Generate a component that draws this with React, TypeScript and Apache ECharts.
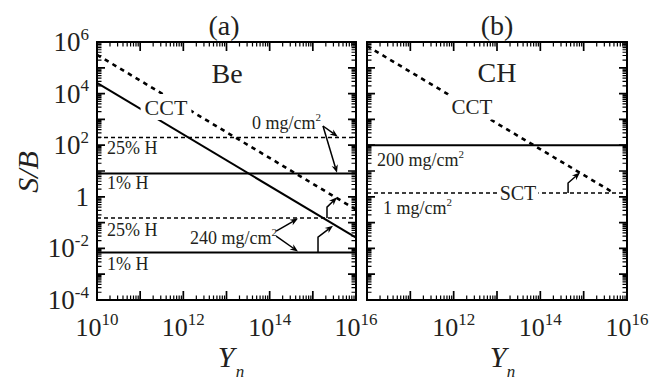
import React, { useEffect, useRef } from 'react';
import * as echarts from 'echarts';

// ---------- data (real units) ----------
// Panel (a): Be
const beYields = [1e10, 1e16];
const beCct0mg = [3.2e5, 0.32];        // CCT, 0 mg/cm2 (dashed)
const beCct240mg = [2.6e4, 0.026];     // CCT, 240 mg/cm2 (solid)
const be25H0mg = [200, 200];           // 25% H, 0 mg/cm2 (dashed)
const be1H0mg = [8, 8];                // 1% H, 0 mg/cm2 (solid)
const be25H240mg = [0.15, 0.15];       // 25% H, 240 mg/cm2 (dashed)
const be1H240mg = [0.007, 0.007];      // 1% H, 240 mg/cm2 (solid)

// Panel (b): CH
const chCctYields = [1e10, 5e15];
const chCct = [7e5, 1.4];              // CCT (dashed)
const chFlatYields = [1e10, 1e16];
const ch200mg = [100, 100];            // 200 mg/cm2 (solid)
const chSct1mg = [1.4, 1.4];           // SCT, 1 mg/cm2 (dashed)

// axis ranges (decades) and tick labels (decade exponents)
const xRangeExp = [10, 16];
const yRangeExp = [-4, 6];
const xLabelExpA = [10, 12, 14, 16];
const xLabelExpB = [12, 14, 16];
const yLabelExp = [6, 4, 2, 0, -2, -4];

// annotation arrows, in decades [log10(Y), log10(S/B)]
const arrowsA = [
  [[15.235, 2.744], [15.58, 2.33]],
  [[15.235, 2.744], [15.56, 0.93]],
  [[14.15, -1.33], [14.656, -0.84]],
  [[14.15, -1.52], [14.656, -2.12]],
  [[15.12, -2.15], [15.12, -1.56], [15.467, -1.12]],
  [[15.328, -0.82], [15.328, -0.40], [15.56, -0.02]],
];
const arrowsB = [
  [[14.64, 0.146], [14.64, 0.535], [14.916, 0.94]],
];

// ---------- layout ----------
const GRID_TOP = 42;
const GRID_BOTTOM = 81;
const GRIDS = [
  { left: 97, right: 311 },
  { left: 367, right: 40 },
];
const CHART_W = 667;
const CHART_H = 381;

// ---------- styling ----------
const SERIF = 'Liberation Serif';
const TXT = '#231f20';
const BLACK = '#000';

const lg = (v: number) => Math.log10(v);
const pairs = (xs: number[], ys: number[]) => xs.map((x, i) => [lg(x), lg(ys[i])]);

const range = (a: number, b: number) => {
  const out: number[] = [];
  for (let d = a; d <= b; d++) out.push(d);
  return out;
};
const minorVals = (from: number, to: number) => {
  const out: number[] = [];
  for (let d = from; d < to; d++) for (let k = 2; k <= 9; k++) out.push(d + Math.log10(k));
  return out;
};
const xMajor = range(xRangeExp[0], xRangeExp[1]);
const yMajor = range(yRangeExp[0], yRangeExp[1]);
const xMinor = minorVals(xRangeExp[0], xRangeExp[1]);
const yMinor = minorVals(yRangeExp[0], yRangeExp[1]);

const tickRich = (size: number) => ({
  b: { fontSize: size, fontFamily: SERIF, color: TXT, lineHeight: 28, verticalAlign: 'middle' },
  s: { fontSize: 17, fontFamily: SERIF, color: TXT, lineHeight: 28, verticalAlign: 'middle', padding: [0, 0, 16, 0] },
});

const fmt = (list: number[]) => (v: number) => {
  const e = Math.round(v);
  if (!list.includes(e)) return '';
  if (e === 0) return '{b|1}';
  return `{b|10}{s|${e}}`;
};

const frameLine = { show: true, onZero: false, lineStyle: { color: BLACK, width: 2 } };

const xAxisFor = (g: number, labels: number[] | null, position: 'bottom' | 'top') => ({
  type: 'value', gridIndex: g, min: xRangeExp[0], max: xRangeExp[1], interval: 1, position,
  axisLine: frameLine, axisTick: { show: false }, splitLine: { show: false },
  axisLabel: labels ? { show: true, margin: 13, formatter: fmt(labels), rich: tickRich(26) } : { show: false },
});
const yAxisFor = (g: number, showLabels: boolean, position: 'left' | 'right') => ({
  type: 'value', gridIndex: g, min: yRangeExp[0], max: yRangeExp[1], interval: 1, position,
  axisLine: frameLine, axisTick: { show: false }, splitLine: { show: false },
  axisLabel: showLabels
    ? { show: true, margin: 8, formatter: fmt(yLabelExp), rich: tickRich(27) }
    : { show: false },
});

// ---------- tick marks: one "comb" line per side, drawn through the axis scales ----------
// a tick length in pixels is turned into axis units from the grid size
const gridW = (g: number) => CHART_W - GRIDS[g].left - GRIDS[g].right;
const gridH = CHART_H - GRID_TOP - GRID_BOTTOM;
const xUnitsPerPx = (g: number) => (xRangeExp[1] - xRangeExp[0]) / gridW(g);
const yUnitsPerPx = (yRangeExp[1] - yRangeExp[0]) / gridH;

const comb = (g: number, dim: 'x' | 'y', low: boolean, values: number[], lenPx: number) => {
  const pts: number[][] = [];
  if (dim === 'x') {
    const len = lenPx * yUnitsPerPx;
    const y0 = low ? yRangeExp[0] : yRangeExp[1];
    const y1 = low ? y0 + len : y0 - len;
    values.forEach((v) => pts.push([v, y0], [v, y1], [v, y0]));
  } else {
    const len = lenPx * xUnitsPerPx(g);
    const x0 = low ? xRangeExp[0] : xRangeExp[1];
    const x1 = low ? x0 + len : x0 - len;
    values.forEach((v) => pts.push([x0, v], [x1, v], [x0, v]));
  }
  return pts;
};

const combSeries = (g: number, data: number[][], width: number) => ({
  type: 'line', xAxisIndex: g, yAxisIndex: g, data, showSymbol: false, symbol: 'none',
  clip: false, silent: true, z: 5,
  lineStyle: { color: BLACK, width, cap: 'butt', join: 'bevel' },
});
const ticksFor = (g: number) => [
  combSeries(g, comb(g, 'x', true, xMajor, 9), 1.7),
  combSeries(g, comb(g, 'x', false, xMajor, 9), 1.7),
  combSeries(g, comb(g, 'x', true, xMinor, 4.5), 1.2),
  combSeries(g, comb(g, 'x', false, xMinor, 4.5), 1.2),
  combSeries(g, comb(g, 'y', true, yMajor, 8), 1.7),
  combSeries(g, comb(g, 'y', false, yMajor, 8), 1.7),
  combSeries(g, comb(g, 'y', true, yMinor, 4.5), 1.2),
  combSeries(g, comb(g, 'y', false, yMinor, 4.5), 1.2),
];

// annotation arrows (polyline shaft + filled head), positioned through the axis scales
const arrowSeries = (g: number, paths: number[][][]) => ({
  type: 'custom', coordinateSystem: 'cartesian2d', xAxisIndex: g, yAxisIndex: g,
  z: 7, clip: false,
  data: paths.map((p) => p[p.length - 1]),
  renderItem: (params: any, api: any) => {
    const pts = paths[params.dataIndex].map((p) => api.coord(p));
    const n = pts.length;
    const [x2, y2] = pts[n - 1];
    const [x1, y1] = pts[n - 2];
    const a = Math.atan2(y2 - y1, x2 - x1);
    const c = Math.cos(a), s = Math.sin(a);
    const L = 8, W = 3.2;
    const bx = x2 - L * c, by = y2 - L * s;
    const nx = x2 - 0.7 * L * c, ny = y2 - 0.7 * L * s;
    const shaft = [...pts.slice(0, n - 1), [nx, ny]];
    return {
      type: 'group',
      children: [
        { type: 'polyline', shape: { points: shaft }, style: { stroke: BLACK, lineWidth: 1.5, fill: 'none' } },
        {
          type: 'polygon',
          shape: { points: [[x2, y2], [bx + W * s, by - W * c], [nx, ny], [bx - W * s, by + W * c]] },
          style: { fill: BLACK, stroke: 'none' },
        },
      ],
    };
  },
});

const bigDash = { color: BLACK, width: 2.6, type: [4.5, 4.5] };
const thinDash = { color: BLACK, width: 1.5, type: [4, 3] };
const solid = { color: BLACK, width: 2 };

const lineSeries = (g: number, data: number[][], style: any) => ({
  type: 'line', xAxisIndex: g, yAxisIndex: g, data, showSymbol: false, symbol: 'none',
  lineStyle: { ...style }, z: 3,
});

const txt = (text: string, x: number, y: number, size: number, extra: any = {}) => ({
  type: 'text', x, y, z: 100,
  style: { text, fontSize: size, fontFamily: SERIF, fill: TXT, align: 'left', verticalAlign: 'middle', ...extra },
});
const unitRich = {
  t: { fontSize: 18, fontFamily: SERIF, fill: TXT, lineHeight: 20, verticalAlign: 'middle' },
  s: { fontSize: 11, fontFamily: SERIF, fill: TXT, lineHeight: 20, verticalAlign: 'middle', padding: [0, 0, 12, 0] },
};
const unitTxt = (value: string, x: number, y: number) =>
  txt(`{t|${value} mg/cm}{s|2}`, x, y, 18, { rich: unitRich });

const option = {
  animation: false,
  grid: GRIDS.map((gr) => ({ left: gr.left, right: gr.right, top: GRID_TOP, bottom: GRID_BOTTOM })),
  xAxis: [
    xAxisFor(0, xLabelExpA, 'bottom'),
    xAxisFor(1, xLabelExpB, 'bottom'),
    xAxisFor(0, null, 'top'),
    xAxisFor(1, null, 'top'),
  ],
  yAxis: [
    yAxisFor(0, true, 'left'),
    yAxisFor(1, false, 'left'),
    yAxisFor(0, false, 'right'),
    yAxisFor(1, false, 'right'),
  ],
  series: [
    lineSeries(0, pairs(beYields, beCct0mg), bigDash),
    lineSeries(0, pairs(beYields, beCct240mg), solid),
    lineSeries(0, pairs(beYields, be25H0mg), thinDash),
    lineSeries(0, pairs(beYields, be1H0mg), solid),
    lineSeries(0, pairs(beYields, be25H240mg), thinDash),
    lineSeries(0, pairs(beYields, be1H240mg), solid),
    lineSeries(1, pairs(chCctYields, chCct), bigDash),
    lineSeries(1, pairs(chFlatYields, ch200mg), solid),
    lineSeries(1, pairs(chFlatYields, chSct1mg), thinDash),
    ...ticksFor(0),
    ...ticksFor(1),
    arrowSeries(0, arrowsA),
    arrowSeries(1, arrowsB),
  ],
  graphic: [
    txt('(a)', 224, 25, 28, { align: 'center' }),
    txt('(b)', 497, 25, 28, { align: 'center' }),
    { ...txt('S/B', 27, 172, 30, { align: 'center', fontStyle: 'italic' }), rotation: Math.PI / 2 },
    txt('Y', 226, 356, 30, { align: 'center', fontStyle: 'italic' }),
    txt('n', 240, 371, 17, { align: 'center', fontStyle: 'italic' }),
    txt('Y', 498, 356, 30, { align: 'center', fontStyle: 'italic' }),
    txt('n', 511, 371, 17, { align: 'center', fontStyle: 'italic' }),
    txt('Be', 227, 73, 28, { align: 'center' }),
    txt('CCT', 166, 107, 22, { align: 'center', backgroundColor: '#fff', padding: [2, 4] }),
    txt('25% H', 107, 148, 18),
    txt('1% H', 107, 183, 18),
    txt('25% H', 107, 230, 18),
    txt('1% H', 107, 264, 18),
    unitTxt('0', 252, 123),
    unitTxt('240', 190, 238),
    txt('CH', 497, 72, 28, { align: 'center' }),
    txt('CCT', 472, 107, 21, { align: 'center', backgroundColor: '#fff', padding: [2, 4] }),
    unitTxt('200', 377, 160),
    txt('SCT', 518, 193, 20, { align: 'center', backgroundColor: '#fff', padding: [0, 2] }),
    unitTxt('1', 383, 208),
  ],
};

export default function App() {
  const ref = useRef<HTMLDivElement>(null);
  useEffect(() => {
    if (!ref.current) return;
    const chart = echarts.init(ref.current, null, { renderer: 'svg' });
    chart.setOption(option as any);
    return () => chart.dispose();
  }, []);
  return (
    <div style={{ position: 'fixed', left: 0, top: 0, width: CHART_W, height: CHART_H, background: '#fff' }}>
      <div ref={ref} style={{ width: CHART_W, height: CHART_H }} />
    </div>
  );
}
